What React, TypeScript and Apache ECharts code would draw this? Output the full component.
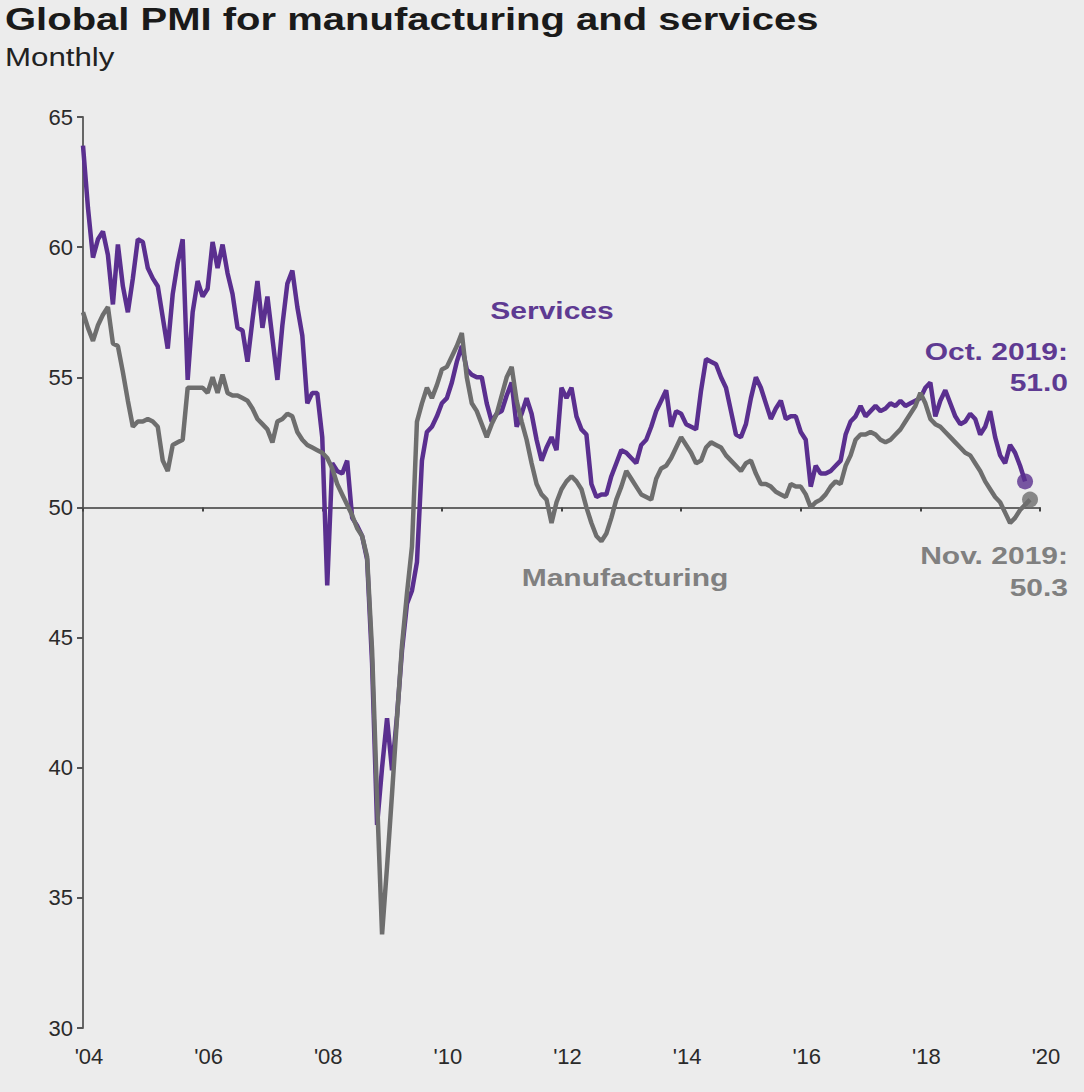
import React, { useEffect, useRef } from "react";
import * as echarts from "echarts";

// Monthly values, Jan 2004 onward
const servicesPMI: number[] = [
  // 2004
  63.9, 61.5, 59.6, 60.3, 60.6, 59.7, 57.8, 60.1, 58.5, 57.5, 58.8, 60.3,
  // 2005
  60.2, 59.2, 58.8, 58.5, 57.3, 56.1, 58.2, 59.4, 60.3, 54.9, 57.5, 58.7,
  // 2006
  58.1, 58.4, 60.2, 59.2, 60.1, 59.0, 58.2, 56.9, 56.8, 55.6, 57.2, 58.7,
  // 2007
  56.9, 58.1, 56.5, 54.9, 57.0, 58.6, 59.1, 57.7, 56.6, 54.0, 54.4, 54.4,
  // 2008
  52.7, 47.0, 51.7, 51.4, 51.3, 51.8, 49.6, 49.3, 48.9, 48.0, 44.0, 37.8,
  // 2009
  40.0, 41.9, 39.9, 42.0, 44.5, 46.3, 46.8, 47.9, 51.8, 52.9, 53.1, 53.5,
  // 2010
  54.0, 54.2, 54.8, 55.6, 56.2, 55.3, 55.1, 55.0, 55.0, 54.0, 53.3, 53.6,
  // 2011
  53.7, 54.3, 54.8, 53.1, 53.6, 54.2, 53.6, 52.6, 51.8, 52.3, 52.7, 52.2,
  // 2012
  54.6, 54.2, 54.6, 53.5, 53.0, 52.8, 50.9, 50.4, 50.5, 50.5, 51.2, 51.7,
  // 2013
  52.2, 52.1, 51.9, 51.7, 52.4, 52.6, 53.1, 53.7, 54.1, 54.5, 53.1, 53.7,
  // 2014
  53.6, 53.2, 53.1, 53.0, 54.5, 55.7, 55.6, 55.5, 55.0, 54.6, 53.7, 52.8,
  // 2015
  52.7, 53.2, 54.2, 55.0, 54.6, 54.0, 53.4, 53.8, 54.1, 53.4, 53.5, 53.5,
  // 2016
  52.9, 52.6, 50.8, 51.6, 51.3, 51.3, 51.4, 51.6, 51.8, 52.8, 53.3, 53.5,
  // 2017
  53.9, 53.5, 53.7, 53.9, 53.7, 53.8, 54.0, 53.9, 54.1, 53.9, 54.0, 54.1,
  // 2018
  54.2, 54.6, 54.8, 53.5, 54.1, 54.5, 54.0, 53.5, 53.2, 53.3, 53.6, 53.4,
  // 2019 (to Oct)
  52.8, 53.1, 53.7, 52.7, 52.0, 51.7, 52.4, 52.1, 51.6, 51.0,
];

const manufacturingPMI: number[] = [
  // 2004
  57.5, 56.9, 56.4, 57.0, 57.4, 57.7, 56.3, 56.2, 55.2, 54.1, 53.1, 53.3,
  // 2005
  53.3, 53.4, 53.3, 53.1, 51.8, 51.4, 52.4, 52.5, 52.6, 54.6, 54.6, 54.6,
  // 2006
  54.6, 54.4, 55.0, 54.4, 55.1, 54.4, 54.3, 54.3, 54.2, 54.1, 53.8, 53.4,
  // 2007
  53.2, 53.0, 52.5, 53.3, 53.4, 53.6, 53.5, 52.9, 52.6, 52.4, 52.3, 52.2,
  // 2008
  52.1, 51.9, 51.5, 50.9, 50.5, 50.1, 49.7, 49.2, 48.9, 48.1, 44.5, 38.8,
  // 2009
  33.6, 36.2, 39.0, 41.9, 44.7, 46.7, 48.5, 53.3, 54.0, 54.6, 54.2, 54.7,
  // 2010
  55.3, 55.4, 55.8, 56.2, 56.7, 55.0, 54.0, 53.7, 53.2, 52.7, 53.2, 53.6,
  // 2011
  54.3, 55.0, 55.4, 54.1, 53.3, 52.6, 51.7, 50.9, 50.5, 50.3, 49.4, 50.2,
  // 2012
  50.7, 51.0, 51.2, 51.0, 50.7, 50.0, 49.4, 48.9, 48.7, 49.0, 49.6, 50.3,
  // 2013
  50.8, 51.4, 51.1, 50.8, 50.5, 50.4, 50.3, 51.1, 51.5, 51.6, 51.9, 52.3,
  // 2014
  52.7, 52.4, 52.1, 51.7, 51.8, 52.3, 52.5, 52.4, 52.3, 52.0, 51.8, 51.6,
  // 2015
  51.4, 51.7, 51.8, 51.3, 50.9, 50.9, 50.8, 50.6, 50.5, 50.4, 50.9, 50.8,
  // 2016
  50.8, 50.5, 50.0, 50.2, 50.3, 50.5, 50.8, 51.0, 50.9, 51.6, 52.0, 52.6,
  // 2017
  52.8, 52.8, 52.9, 52.8, 52.6, 52.5, 52.6, 52.8, 53.0, 53.3, 53.6, 53.9,
  // 2018
  54.4, 54.0, 53.4, 53.2, 53.1, 52.9, 52.7, 52.5, 52.3, 52.1, 52.0, 51.7,
  // 2019 (to Nov)
  51.4, 51.0, 50.7, 50.4, 50.2, 49.8, 49.4, 49.6, 49.9, 50.1, 50.3,
];

const START_YEAR = 2004;
const X_MIN = 2004;
const X_MAX = 2020;
const X_STEP = 2;
const Y_MIN = 30;
const Y_MAX = 65;
const Y_STEP = 5;
const THRESHOLD = 50;

const TITLE = "Global PMI for manufacturing and services";
const SUBTITLE = "Monthly";
const SERVICES_LABEL = "Services";
const MANUFACTURING_LABEL = "Manufacturing";
const SERVICES_END_LABEL = ["Oct. 2019:", "51.0"];
const MANUFACTURING_END_LABEL = ["Nov. 2019:", "50.3"];

const PURPLE = "#5a2f8f";
const PURPLE_TEXT = "#5e3a92";
const GRAY = "#6e6e6e";
const GRAY_TEXT = "#808080";
const BG = "#ececec";

const toPairs = (arr: number[]) =>
  arr.map((v, i) => [START_YEAR + i / 12, v]);

export default function App() {
  const ref = useRef<HTMLDivElement>(null);

  useEffect(() => {
    document.body.style.margin = "0";
    document.body.style.background = BG;
    if (!ref.current) return;
    const chart = echarts.init(ref.current, undefined, { renderer: "svg" });

    const svc = toPairs(servicesPMI);
    const mfg = toPairs(manufacturingPMI);
    const svcLast = svc[svc.length - 1];
    const mfgLast = mfg[mfg.length - 1];

    const gridTop = 117;
    const gridBottom = 64;
    const gridH = 1092 - gridTop - gridBottom;
    const yOf50 = gridTop + ((Y_MAX - THRESHOLD) / (Y_MAX - Y_MIN)) * gridH;
    const offset50 = -(1092 - gridBottom - yOf50);

    const bold = (size: number) =>
      `bold ${size}px "Liberation Sans", Arial, sans-serif`;
    const reg = (size: number) =>
      `${size}px "Liberation Sans", Arial, sans-serif`;

    chart.setOption({
      animation: false,
      backgroundColor: BG,
      grid: { left: 83, right: 44, top: gridTop, bottom: gridBottom },
      xAxis: [
        {
          type: "value",
          min: X_MIN,
          max: X_MAX,
          interval: X_STEP,
          position: "bottom",
          axisLine: { show: false },
          axisTick: { show: false },
          splitLine: { show: false },
          axisLabel: {
            margin: 17,
            color: "#2a2a2a",
            fontSize: 22,
            padding: [0, 0, 0, 12],
            fontFamily: '"Liberation Sans", Arial, sans-serif',
            formatter: (v: number) => "'" + String(v).slice(2),
          },
        },
        {
          type: "value",
          min: X_MIN,
          max: X_MAX,
          interval: X_STEP,
          position: "bottom",
          offset: offset50,
          axisLine: { show: true, lineStyle: { color: "#666", width: 2 } },
          axisTick: { show: true, length: 4, lineStyle: { color: "#444", width: 2 } },
          axisLabel: { show: false },
          splitLine: { show: false },
        },
      ],
      yAxis: {
        type: "value",
        min: Y_MIN,
        max: Y_MAX,
        interval: Y_STEP,
        axisLine: { show: true, lineStyle: { color: "#666", width: 2 } },
        axisTick: { show: true, length: 6, lineStyle: { color: "#555", width: 2 } },
        splitLine: { show: false },
        axisLabel: {
          margin: 10,
          color: "#2a2a2a",
          fontSize: 22,
          fontFamily: '"Liberation Sans", Arial, sans-serif',
        },
      },
      series: [
        {
          name: "Services",
          type: "line",
          data: svc,
          showSymbol: false,
          lineStyle: { color: PURPLE, width: 4.5 },
          itemStyle: { color: PURPLE },
          z: 2,
        },
        {
          name: "Manufacturing",
          type: "line",
          data: mfg,
          showSymbol: false,
          lineStyle: { color: GRAY, width: 4.5 },
          itemStyle: { color: GRAY },
          z: 3,
        },
        {
          type: "scatter",
          data: [svcLast],
          symbolSize: 16,
          itemStyle: { color: PURPLE },
          z: 4,
        },
        {
          type: "scatter",
          data: [mfgLast],
          symbolSize: 16,
          itemStyle: { color: GRAY },
          z: 5,
        },
      ],
      graphic: [
        {
          type: "text",
          x: 5,
          y: 3,
          scaleX: 1.25,
          style: { text: TITLE, font: bold(32), fill: "#1a1a1a", textVerticalAlign: "top" },
        },
        {
          type: "text",
          x: 5,
          y: 45,
          scaleX: 1.25,
          style: { text: SUBTITLE, font: reg(25), fill: "#222", textVerticalAlign: "top" },
        },
        {
          type: "text",
          x: 552,
          y: 311,
          scaleX: 1.25,
          style: {
            text: SERVICES_LABEL,
            font: bold(24),
            fill: PURPLE_TEXT,
            textAlign: "center",
            textVerticalAlign: "middle",
          },
        },
        {
          type: "text",
          x: 625,
          y: 578,
          scaleX: 1.25,
          style: {
            text: MANUFACTURING_LABEL,
            font: bold(24),
            fill: GRAY_TEXT,
            textAlign: "center",
            textVerticalAlign: "middle",
          },
        },
        {
          type: "text",
          x: 1068,
          y: 352,
          scaleX: 1.25,
          style: {
            text: SERVICES_END_LABEL[0],
            font: bold(24),
            fill: PURPLE_TEXT,
            textAlign: "right",
            textVerticalAlign: "middle",
          },
        },
        {
          type: "text",
          x: 1068,
          y: 383,
          scaleX: 1.25,
          style: {
            text: SERVICES_END_LABEL[1],
            font: bold(24),
            fill: PURPLE_TEXT,
            textAlign: "right",
            textVerticalAlign: "middle",
          },
        },
        {
          type: "text",
          x: 1068,
          y: 556,
          scaleX: 1.25,
          style: {
            text: MANUFACTURING_END_LABEL[0],
            font: bold(24),
            fill: GRAY_TEXT,
            textAlign: "right",
            textVerticalAlign: "middle",
          },
        },
        {
          type: "text",
          x: 1068,
          y: 588,
          scaleX: 1.25,
          style: {
            text: MANUFACTURING_END_LABEL[1],
            font: bold(24),
            fill: GRAY_TEXT,
            textAlign: "right",
            textVerticalAlign: "middle",
          },
        },
      ],
    });

    return () => chart.dispose();
  }, []);

  return <div ref={ref} style={{ width: 1084, height: 1092, background: BG }} />;
}
